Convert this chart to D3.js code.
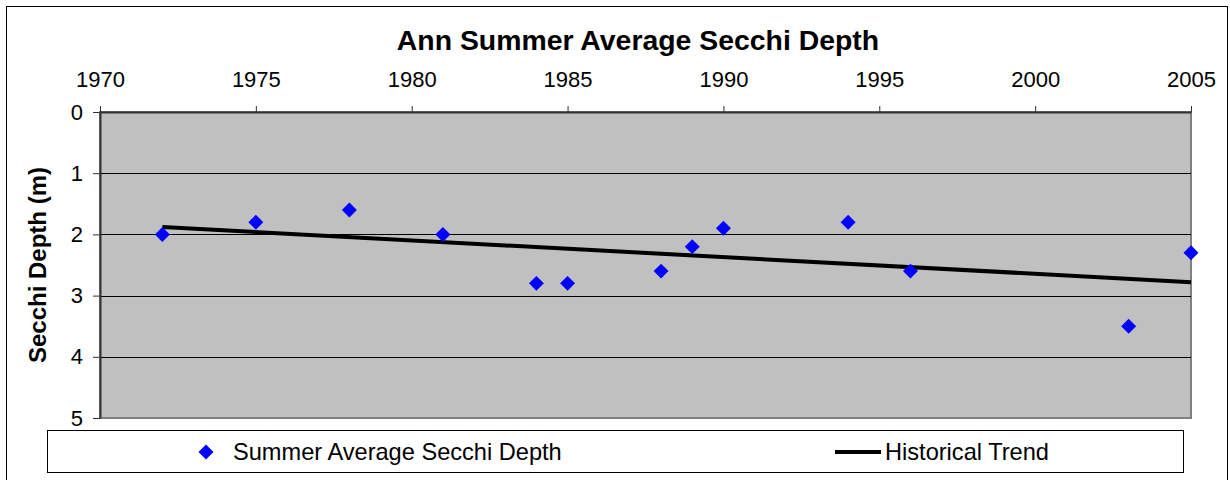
<!DOCTYPE html>
<html>
<head>
<meta charset="utf-8">
<script src="https://cdn.jsdelivr.net/npm/d3@7"></script>
<style>
  body { margin: 0; background: #fff; }
  text { font-family: "Liberation Sans", Arial, sans-serif; fill: #000; }
</style>
</head>
<body>
<div id="chart"></div>
<script>
const width = 1230
const height = 480
const margin = { top: 112, bottom: 62, right: 39, left: 100 }

// data
const years = [1972, 1975, 1978, 1981, 1984, 1985, 1988, 1989, 1990, 1994, 1996, 2003, 2005]
const depths = [2.0, 1.8, 1.6, 2.0, 2.8, 2.8, 2.6, 2.2, 1.9, 1.8, 2.6, 3.5, 2.3]
const trendYears = [1972, 2005]
const trendDepths = [1.88, 2.78]
const xTicks = [1970, 1975, 1980, 1985, 1990, 1995, 2000, 2005]
const yTicks = [0, 1, 2, 3, 4, 5]

const points = years.map((y, i) => ({ year: y, depth: depths[i] }))
const trend = trendYears.map((y, i) => ({ year: y, depth: trendDepths[i] }))

const innerW = width - margin.left - margin.right
const innerH = height - margin.top - margin.bottom

const svg = d3.select("div#chart").append("svg").attr("width", width).attr("height", height)

// outer chart border
svg.append("rect").attr("x", 6.5).attr("y", 6.5).attr("width", 1221).attr("height", 500)
  .attr("fill", "#fff").attr("stroke", "#000").attr("stroke-width", 1)

const x = d3.scaleLinear().domain([1970, 2005]).range([0, innerW])
const y = d3.scaleLinear().domain([0, 5]).range([0, innerH])

const g = svg.append("g").attr("transform", `translate(${margin.left}, ${margin.top})`)

// plot area
g.append("rect").attr("width", innerW).attr("height", innerH)
  .attr("fill", "#c0c0c0").attr("stroke", "#808080").attr("stroke-width", 2)

// gridlines
g.selectAll(".grid").data(yTicks.filter(d => d > 0 && d < 5)).enter()
  .append("line").attr("class", "grid")
  .attr("x1", 0).attr("x2", innerW)
  .attr("y1", d => Math.round(y(d)) + 0.5).attr("y2", d => Math.round(y(d)) + 0.5)
  .attr("stroke", "#000").attr("stroke-width", 1)

// axes
const xAxis = d3.axisTop(x).tickValues(xTicks).tickFormat(d3.format("d")).tickSize(6).tickSizeOuter(0).tickPadding(19)
const yAxis = d3.axisLeft(y).tickValues(yTicks).tickFormat(d3.format("d")).tickSize(7).tickSizeOuter(0).tickPadding(10)

const xAxisGroup = g.append("g").call(xAxis)
const yAxisGroup = g.append("g").call(yAxis)

;[xAxisGroup, yAxisGroup].forEach(ag => {
  ag.attr("font-family", null)
  ag.select(".domain").attr("stroke", "#333").attr("stroke-width", 2)
  ag.selectAll(".tick line").attr("stroke", "#333").attr("stroke-width", 1)
  ag.selectAll(".tick text").attr("font-size", 22).attr("fill", "#000")
})

// trend line
const line = d3.line().x(d => x(d.year)).y(d => y(d.depth))
g.append("path").datum(trend).attr("d", line)
  .attr("fill", "none").attr("stroke", "#000").attr("stroke-width", 4)

// markers
const diamond = d3.symbol().type(d3.symbolSquare).size(112)
g.selectAll(".pt").data(points).enter()
  .append("path").attr("class", "pt")
  .attr("d", diamond)
  .attr("transform", d => `translate(${x(d.year)}, ${y(d.depth)}) rotate(45)`)
  .attr("fill", "#0000ff")

// title
svg.append("text").attr("x", 638).attr("y", 50).attr("text-anchor", "middle")
  .attr("font-size", 28.4).attr("font-weight", "bold").text("Ann Summer Average Secchi Depth")

// y axis title
svg.append("text").attr("transform", `translate(46, ${margin.top + innerH / 2}) rotate(-90)`)
  .attr("text-anchor", "middle").attr("font-size", 24).attr("font-weight", "bold")
  .text("Secchi Depth (m)")

// legend
const legend = svg.append("g")
legend.append("rect").attr("x", 47.5).attr("y", 430.5).attr("width", 1136).attr("height", 42)
  .attr("fill", "#fff").attr("stroke", "#000").attr("stroke-width", 1)
legend.append("path").attr("d", diamond)
  .attr("transform", "translate(206, 452) rotate(45)").attr("fill", "#0000ff")
legend.append("text").attr("x", 233).attr("y", 460).attr("font-size", 23.6).text("Summer Average Secchi Depth")
legend.append("line").attr("x1", 835).attr("x2", 881).attr("y1", 452).attr("y2", 452)
  .attr("stroke", "#000").attr("stroke-width", 4)
legend.append("text").attr("x", 885).attr("y", 460).attr("font-size", 23.6).text("Historical Trend")
</script>
</body>
</html>
